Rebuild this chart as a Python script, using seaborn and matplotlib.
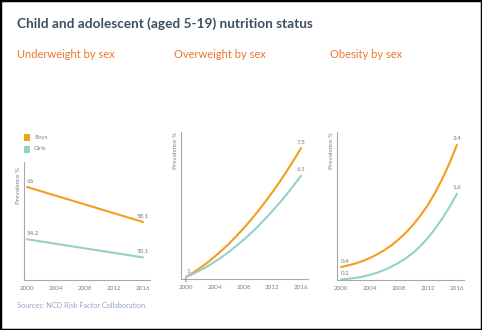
import matplotlib
matplotlib.use("Agg")
import matplotlib.pyplot as plt
import seaborn as sns
import pandas as pd
from matplotlib.patches import Rectangle

sns.set_theme(style="white")
plt.rcParams['font.family'] = ['Lato', 'DejaVu Sans']

# ---- data -------------------------------------------------------------
sexes = ["Boys", "Girls"]
underweight_years = [2000, 2016]
underweight_boys = [66, 58.1]
underweight_girls = [54.2, 50.1]

curve_years = list(range(2000, 2017))
overweight_boys = [1, 1.22, 1.47, 1.73, 2.03, 2.35, 2.69, 3.06, 3.45,
                   3.87, 4.31, 4.78, 5.27, 5.78, 6.33, 6.9, 7.5]
overweight_girls = [1, 1.16, 1.34, 1.54, 1.77, 2.01, 2.28, 2.57, 2.87,
                    3.2, 3.55, 3.93, 4.32, 4.73, 5.17, 5.63, 6.1]
obesity_boys = [0.4, 0.43, 0.46, 0.5, 0.55, 0.61, 0.68, 0.76, 0.86,
                0.97, 1.1, 1.25, 1.42, 1.62, 1.85, 2.11, 2.4]
obesity_girls = [0.2, 0.21, 0.225, 0.245, 0.275, 0.31, 0.355, 0.41, 0.475,
                 0.55, 0.64, 0.75, 0.88, 1.03, 1.2, 1.39, 1.6]

x_ticks = [2000, 2004, 2008, 2012, 2016]

title = "Child and adolescent (aged 5-19) nutrition status"
panel_titles = ["Underweight by sex", "Overweight by sex", "Obesity by sex"]
source = "Sources: NCD Risk Factor Collaboration."

# ---- style ------------------------------------------------------------
BOYS = "#f59d1c"
GIRLS = "#95d0cb"
palette = {"Boys": BOYS, "Girls": GIRLS}
TITLE_C = "#3f4e60"
SUB_C = "#e8782e"
SRC_C = "#93a6c2"
LABEL_C = "#808080"

W, H = 482, 330
fig = plt.figure(figsize=(W / 100, H / 100), dpi=100)
fig.patch.set_facecolor("white")


def px_axes(x0, x1, y0, y1):
    return fig.add_axes([x0 / W, 1 - y1 / H, (x1 - x0) / W, (y1 - y0) / H])


def long_frame(years, boys, girls):
    return pd.DataFrame({
        "year": list(years) * 2,
        "value": list(boys) + list(girls),
        "sex": [sexes[0]] * len(years) + [sexes[1]] * len(years),
    })


def fmt(v):
    return f"{v:g}"


panels = [
    dict(rect=(24, 150, 162, 280), years=underweight_years,
         boys=underweight_boys, girls=underweight_girls,
         xlim=(1999.59, 2016.97), ylim=(45.0, 71.64), cap_drop=5),
    dict(rect=(181, 308, 132, 279), years=curve_years,
         boys=overweight_boys, girls=overweight_girls,
         xlim=(1999.30, 2016.97), ylim=(0.9, 8.31), cap_drop=0),
    dict(rect=(337, 464, 132, 280), years=curve_years,
         boys=obesity_boys, girls=obesity_girls,
         xlim=(1999.45, 2016.97), ylim=(0.19, 2.61), cap_drop=0),
]

for p in panels:
    ax = px_axes(*p["rect"])
    df = long_frame(p["years"], p["boys"], p["girls"])
    sns.lineplot(data=df, x="year", y="value", hue="sex", palette=palette,
                 linewidth=1.5, ax=ax, legend=False)
    ax.set_xlim(*p["xlim"])
    ax.set_ylim(*p["ylim"])
    ax.set_xticks(x_ticks)
    ax.set_xticklabels([str(t) for t in x_ticks])
    ax.set_yticks([])
    ax.set_xlabel("")
    ax.set_ylabel("")
    ax.tick_params(axis="x", length=0, pad=4, labelsize=4.5, colors=LABEL_C)
    for s in ("top", "right"):
        ax.spines[s].set_visible(False)
    for s in ("left", "bottom"):
        ax.spines[s].set_color("#a8a8a8")
        ax.spines[s].set_linewidth(0.8)
    ax.patch.set_alpha(0)
    # axis caption at the top of the y axis
    h = p["rect"][3] - p["rect"][2]
    ax.annotate("Prevalence %", (0, 1 - p["cap_drop"] / h),
                xycoords="axes fraction", xytext=(-2.5, 0),
                textcoords="offset points", rotation=90, ha="right",
                va="top", fontsize=4.5, color=LABEL_C)
    # value labels at both ends of each line
    same_start = p["boys"][0] == p["girls"][0]
    for k, vals in enumerate((p["boys"], p["girls"])):
        if same_start and k == 1:
            start_off, start_va = (-2, -1), "top"
        else:
            start_off, start_va = (0, 2.5), "bottom"
        ax.annotate(fmt(vals[0]), (p["years"][0], vals[0]),
                    xytext=start_off, textcoords="offset points",
                    ha="left", va=start_va, fontsize=4.5, color="#7a7a7a")
        ax.annotate(fmt(vals[-1]), (p["years"][-1], vals[-1]),
                    xytext=(0, 2.5), textcoords="offset points",
                    ha="center", va="bottom", fontsize=4.5, color="#7a7a7a")

# legend in the first panel
for k, (name, col) in enumerate(palette.items()):
    y = 137 + 12 * k
    fig.patches.append(Rectangle((24 / W, 1 - (y + 3.5) / H), 6 / W, 7 / H,
                                 transform=fig.transFigure, facecolor=col,
                                 edgecolor="none"))
    fig.text(34 / W, 1 - y / H, name, ha="left", va="center",
             fontsize=4.5, color=LABEL_C)

# headings
fig.text(17 / W, 1 - 24 / H, title, ha="left", va="center",
         fontsize=9.8, fontweight="bold", color=TITLE_C)
for x, t in zip((17, 174, 330), panel_titles):
    fig.text(x / W, 1 - 54 / H, t, ha="left", va="center",
             fontsize=8, color=SUB_C)
fig.text(17 / W, 1 - 306 / H, source, ha="left", va="center",
         fontsize=5.3, color=SRC_C)

# frame around the whole graphic
fig.patches.append(Rectangle((0, 0), 1, 1, transform=fig.transFigure,
                             fill=False, edgecolor="black", linewidth=2.5))

fig.savefig("out.png", dpi=100)
